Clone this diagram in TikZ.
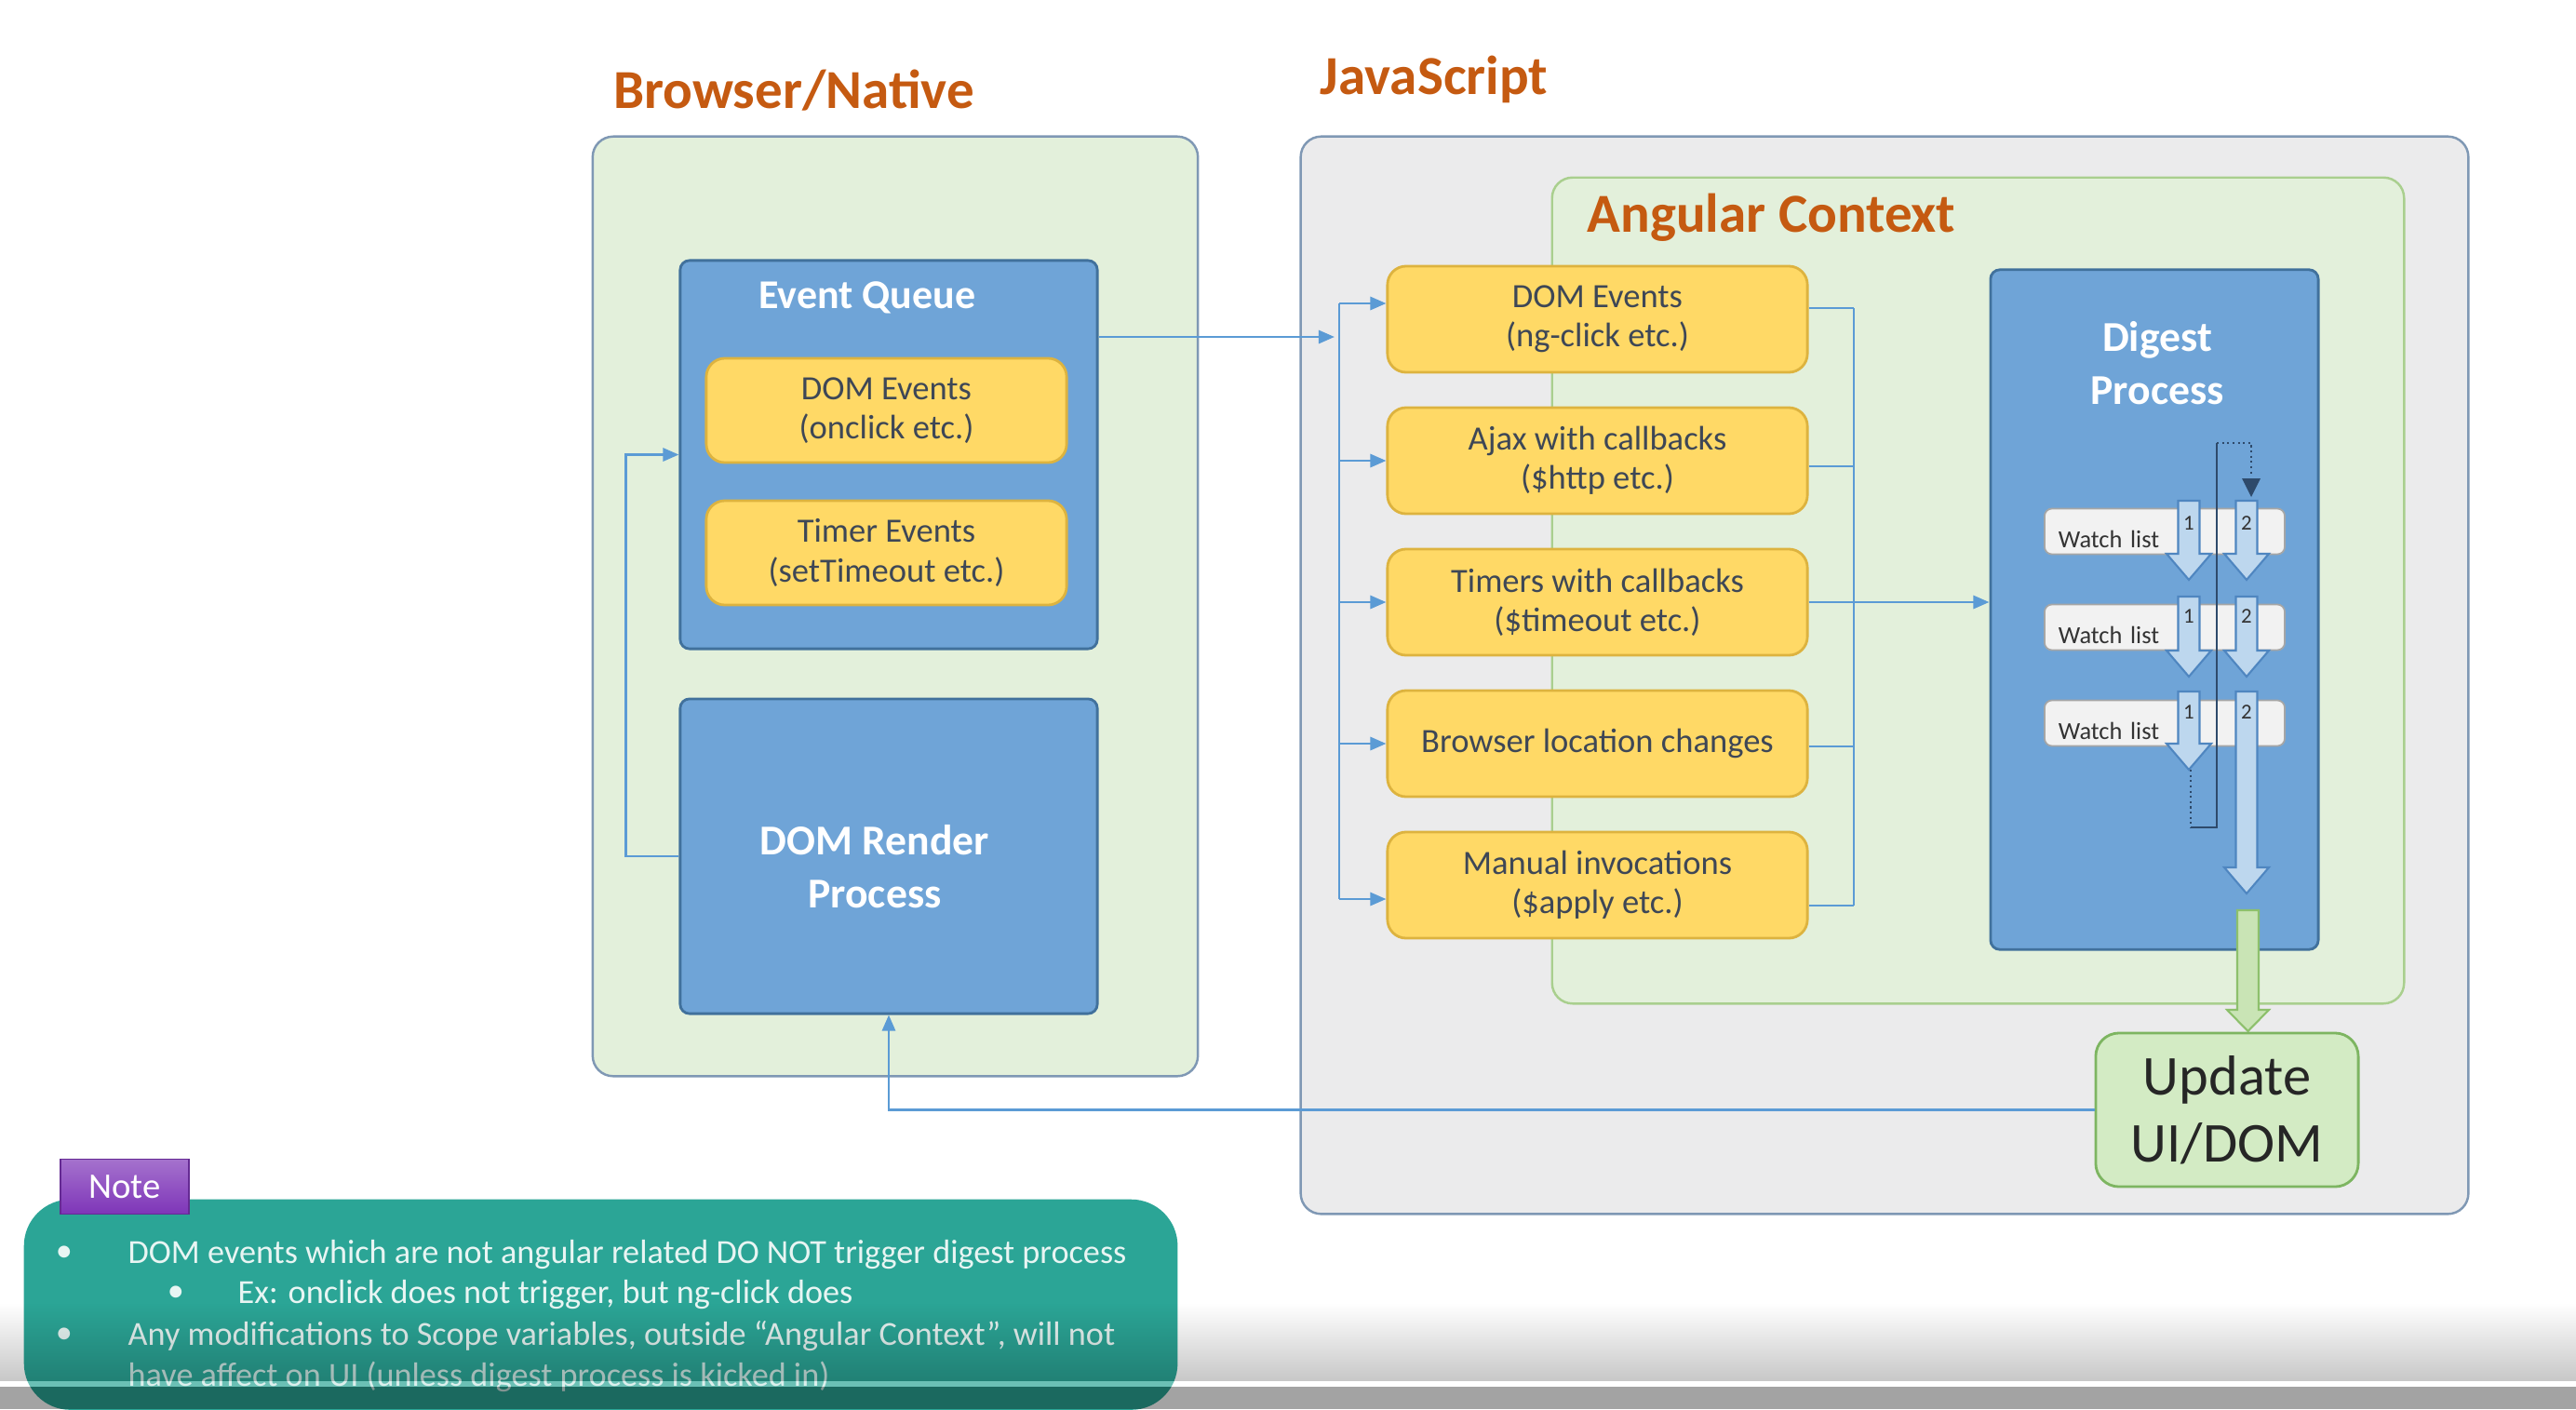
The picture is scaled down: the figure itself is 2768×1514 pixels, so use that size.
\documentclass[tikz,border=0pt]{standalone}
\usepackage{fontspec}
\setmainfont{Carlito}
\usetikzlibrary{arrows.meta,positioning,fadings}

\definecolor{titleorange}{HTML}{C55A11}
\definecolor{regionline}{HTML}{7F98B4}
\definecolor{jsgray}{HTML}{EBEBEC}
\definecolor{ctxgreen}{HTML}{E3F0DB}
\definecolor{ctxline}{HTML}{A9CF8E}
\definecolor{boxblue}{HTML}{6FA4D7}
\definecolor{boxline}{HTML}{41719C}
\definecolor{evyellow}{HTML}{FFD966}
\definecolor{evline}{HTML}{DDB33F}
\definecolor{evtext}{HTML}{3E4756}
\definecolor{linkblue}{HTML}{5B9BD5}
\definecolor{watchfill}{HTML}{F2F2F2}
\definecolor{watchline}{HTML}{A6A6A6}
\definecolor{arrowfill}{HTML}{BDD7EE}
\definecolor{arrowline}{HTML}{4F86C0}
\definecolor{loopline}{HTML}{2E4A6B}
\definecolor{greenfill}{HTML}{C9E4B5}
\definecolor{greenline}{HTML}{8DC06C}
\definecolor{updatefill}{HTML}{D3EBC4}
\definecolor{updateline}{HTML}{7DB561}
\definecolor{noteteal}{HTML}{2BA596}
\definecolor{notetextc}{HTML}{E8F5F3}
\definecolor{notepurple}{HTML}{7E35B8}

\begin{document}
\begin{tikzpicture}
      [%%%%%%%%%%%%%%%%%%%%%%%%%%%%%%
          x=0.01cm, y=-0.01cm,
          area/.style={rectangle,rounded corners=0.22cm,draw=regionline,line width=0.7pt,inner sep=0},
          headline/.style={text=titleorange,font=\bfseries\fontsize{16.8}{19}\selectfont,inner sep=0},
          bluebox/.style={rectangle,rounded corners=0.1cm,fill=boxblue,draw=boxline,line width=0.8pt,inner sep=0},
          bluetitle/.style={text=white,align=center,inner sep=0,font=\bfseries\fontsize{13}{16}\selectfont},
          evbox/.style={rectangle,rounded corners=0.2cm,fill=evyellow,draw=evline,line width=0.8pt,
                        text=evtext,align=center,font=\fontsize{10.4}{12}\selectfont,
                        minimum width=3.87cm,minimum height=1.12cm,inner sep=0},
          jsbox/.style={evbox,minimum width=4.51cm,minimum height=1.14cm},
          watch/.style={rectangle,rounded corners=0.08cm,fill=watchfill,draw=watchline,line width=0.5pt,
                        minimum width=2.58cm,minimum height=0.49cm,inner xsep=0.15cm,inner ysep=0,
                        text width=2.28cm,align=left,text height=2.1ex,text depth=0pt,
                        text=black!80,font=\fontsize{7.5}{9}\selectfont},
          arrownum/.style={inner sep=0,text=black!80,font=\fontsize{6.5}{8}\selectfont},
          link/.style={draw=linkblue,line width=0.8pt},
          linkto/.style={link,-{Triangle[length=0.17cm,width=0.14cm]}},
          blockarrow/.style={fill=arrowfill,draw=arrowline,line width=0.6pt},
          looplink/.style={draw=loopline,line width=0.6pt},
          greenarrow/.style={fill=greenfill,draw=greenline,line width=0.6pt},
          updatebox/.style={rectangle,rounded corners=0.25cm,fill=updatefill,draw=updateline,line width=0.8pt,
                        text=black!85,align=center,font=\fontsize{17.2}{20.5}\selectfont,inner sep=0},
          notetext/.style={inner sep=0,text=notetextc,font=\fontsize{10.3}{12}\selectfont}
      ]%%%%%%%%%%%%%%%%%%%%%%%%%%%%%%

  \clip (0,0) rectangle (2768,1514);
  \fill[white] (0,0) rectangle (2768,1514);

  % the three regions
  \node[area,fill=jsgray,minimum width=12.54cm,minimum height=11.57cm] (js) at (2025,725.5) {};
  \node[area,fill=ctxgreen,draw=ctxline,minimum width=9.15cm,minimum height=8.87cm] (ctx) at (2125.5,634.5) {};
  \node[area,fill=ctxgreen,minimum width=6.50cm,minimum height=10.09cm] (browser) at (962,651.5) {};

  \node[headline] (bntitle) at (853,97) {Browser/Native};
  \node[headline] (jstitle) at (1541,85) {JavaScript};
  \node[headline,anchor=west] (ctxtitle) at (1705,234) {Angular Context};

  % browser side
  \node[bluebox,minimum width=4.48cm,minimum height=4.17cm] (eventq) at (955,488.5) {};
  \node[bluetitle,font=\bfseries\fontsize{12.5}{15}\selectfont] (eqlabel) at (932,320) {Event Queue};
  \node[evbox] (domev) at (952.5,441) {DOM Events\\(onclick etc.)};
  \node[evbox] (timerev) at (952.5,594) {Timer Events\\(setTimeout etc.)};
  \node[bluebox,minimum width=4.48cm,minimum height=3.38cm] (render) at (955,920) {};
  \node[bluetitle] (renderlabel) at (940,931) {DOM Render\\Process};

  % javascript side
  \foreach \n/\y/\t in {jsdom/343/{DOM Events\\(ng-click etc.)},
                        ajax/495/{Ajax with callbacks\\(\$http etc.)},
                        timers/647/{Timers with callbacks\\(\$timeout etc.)},
                        location/799/{Browser location changes},
                        manual/951/{Manual invocations\\(\$apply etc.)}}
      \node[jsbox] (\n) at (1716.5,\y) {\t};

  % digest
  \node[bluebox,minimum width=3.52cm,minimum height=7.30cm] (digest) at (2315,655) {};
  \node[bluetitle] (digestlabel) at (2318,390) {Digest\\Process};

  \foreach \y [count=\i] in {571,674,777}
      \node[watch] (watch\i) at (2326,\y) {Watch list};

  \draw[looplink,densely dotted] (2354,827) -- (2354,889);
  \draw[looplink] (2354,889) -- (2382,889) -- (2382,476);
  \draw[looplink,densely dotted] (2382,476) -- (2419,476) -- (2419,510);
  \fill[loopline] (2409,514) -- (2429,514) -- (2419,534) -- cycle;

  \foreach \x/\y/\b in {2352/538/623, 2414/538/623, 2352/641/727,
                        2414/641/727, 2352/743/827, 2414/743/960}
      \draw[blockarrow] (\x-11.5,\y) -- (\x+11.5,\y) -- (\x+11.5,\b-28) -- (\x+24,\b-28)
                        -- (\x,\b) -- (\x-24,\b-28) -- (\x-11.5,\b-28) -- cycle;

  \foreach \x/\k in {2352/1,2414/2}{
      \foreach \y in {562,662,765}
          \node[arrownum] (num\k-\y) at (\x,\y) {\k};
  }

  \draw[greenarrow] (2404,978) -- (2427,978) -- (2427,1085) -- (2438,1085)
                    -- (2415.5,1108) -- (2393,1085) -- (2404,1085) -- cycle;
  \node[updatebox,minimum width=2.82cm,minimum height=1.65cm] (update) at (2393,1192.5) {Update\\UI/DOM};

  % connectors
  \coordinate (busl) at (1439,362);
  \coordinate (busr) at (1992,648);

  \draw[linkto] (eventq.east |- busl) -- ([xshift=-0.05cm]busl);
  \draw[link] ([yshift=0.17cm]jsdom.west -| busl) -- ([yshift=-0.15cm]manual.west -| busl);
  \foreach \n/\s in {jsdom/0.17,ajax/0,timers/0,location/0,manual/-0.15}
      \draw[linkto] ([yshift=\s cm]\n.west -| busl) -- ([yshift=\s cm]\n.west);

  \foreach \n/\s in {jsdom/0.12,ajax/-0.06,timers/0,location/-0.03,manual/-0.22}
      \draw[link] ([yshift=\s cm]\n.east) -- ([yshift=\s cm]\n.east -| busr);
  \draw[link] ([yshift=0.12cm]jsdom.east -| busr) -- ([yshift=-0.22cm]manual.east -| busr);
  \draw[linkto] (timers.east) -- (timers.east -| digest.west);

  \draw[linkto] (render.west) -- ++(-57,0) |- (eventq.west);
  \draw[linkto] (update.west) -| (render.south);

  % note
  \node[rectangle,rounded corners=0.5cm,fill=noteteal,minimum width=12.39cm,minimum height=2.26cm,
        anchor=north west,inner sep=0] (note) at (25,1288) {};
  \node[rectangle,top color=notepurple!70!white,bottom color=notepurple,draw=notepurple!80!black,
        line width=0.4pt,minimum width=1.38cm,minimum height=0.59cm,inner sep=0,text=white,
        font=\fontsize{11}{13}\selectfont] (notetab) at (134,1275) {Note};

  \node[notetext] (dot1) at (69,1347) {\textbullet};
  \node[notetext,anchor=west] (line1) at (137,1348) {DOM events which are not angular related DO NOT trigger digest process};
  \node[notetext] (dot2) at (189,1390) {\textbullet};
  \node[notetext,anchor=west] (line2) at (255,1391) {Ex: onclick does not trigger, but ng-click does};
  \node[notetext] (dot3) at (69,1435) {\textbullet};
  \node[notetext,anchor=west] (line3) at (137,1436) {Any modifications to Scope variables, outside “Angular Context”, will not};
  \node[notetext,anchor=west,text=notetextc!85!noteteal] (line4) at (137,1479) {have affect on UI (unless digest process is kicked in)};

  % faint bar along the bottom edge
  \fill[black,opacity=0.22,path fading=north] (0,1400) rectangle (2768,1484);
  \fill[white,opacity=0.3] (0,1484) rectangle (2768,1490);
  \fill[black,opacity=0.36] (0,1490) rectangle (2768,1514);

\end{tikzpicture}
\end{document}
